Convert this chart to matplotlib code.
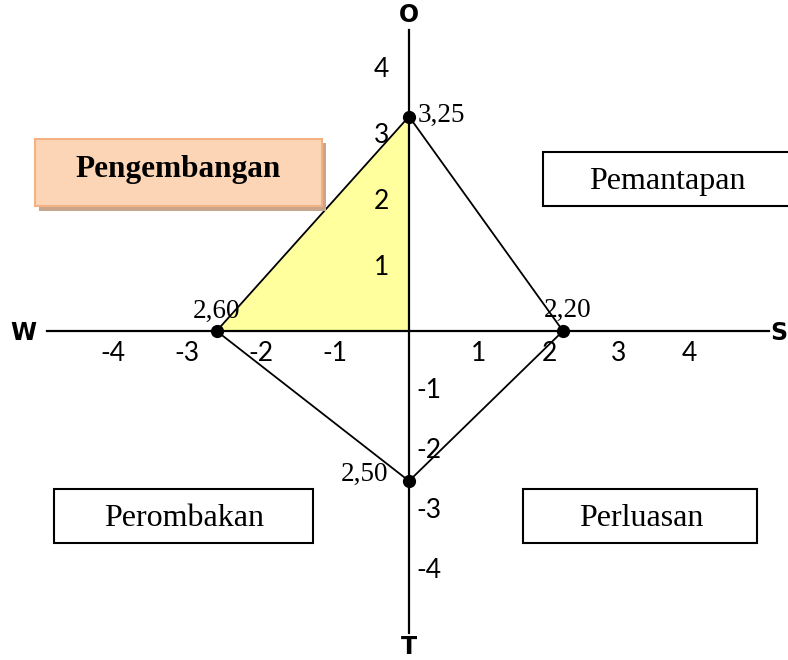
import numpy as np
import matplotlib
matplotlib.use("Agg")
import matplotlib.pyplot as plt
from matplotlib.patches import Rectangle, Polygon
import matplotlib.transforms as mtransforms

# ---- data ----
axis_names = ["S", "W", "O", "T"]
strength = 2.20      # S (x>0)
weakness = 2.60      # W (x<0)
opportunity = 3.25   # O (y>0)
threat = 2.50        # T (y<0)
point_labels = ["2,20", "2,60", "3,25", "2,50"]
x_ticks = [-4, -3, -2, -1, 1, 2, 3, 4]
y_ticks = [4, 3, 2, 1, -1, -2, -3, -4]
quadrant_names = ["Pengembangan", "Pemantapan", "Perombakan", "Perluasan"]

# ---- piecewise-linear scales (hand-drawn diagram has unequal halves) ----
XL, XR = 74.0, 70.0
YU, YD = 66.0, 60.0

def fx(v):
    v = np.asarray(v, dtype=float)
    return np.where(v < 0, v * XL, v * XR)

def ifx(v):
    v = np.asarray(v, dtype=float)
    return np.where(v < 0, v / XL, v / XR)

def fy(v):
    v = np.asarray(v, dtype=float)
    return np.where(v < 0, v * YD, v * YU)

def ify(v):
    v = np.asarray(v, dtype=float)
    return np.where(v < 0, v / YD, v / YU)

fig = plt.figure(figsize=(7.88, 6.60), dpi=100)
ax = fig.add_axes([0, 0, 1, 1])
ax.set_xscale("function", functions=(fx, ifx))
ax.set_yscale("function", functions=(fy, ify))
ax.set_xlim(-409 / XL, 379 / XR)
ax.set_ylim(-329 / YD, 331 / YU)
ax.axis("off")

sans = ["Lato", "DejaVu Sans"]
bold_sans = ["DejaVu Sans"]
serif = ["Liberation Serif", "DejaVu Serif"]

# points of the SWOT diamond
px = [strength, -weakness, 0, 0]
py = [0, 0, opportunity, -threat]

# yellow triangle (W, origin, O)
tri = Polygon([[-weakness, 0], [0, 0], [0, opportunity]], closed=True,
              facecolor="#FFFF9E", edgecolor="none", zorder=1)
ax.add_patch(tri)

# axes lines
ax.axhline(0, xmin=47 / 788, xmax=769 / 788, color="black", lw=1.6, zorder=2)
ax.axvline(0, ymin=1 - 633 / 660, ymax=1 - 30 / 660, color="black", lw=1.6, zorder=2)

# diamond
dx = [-weakness, 0, strength, 0, -weakness]
dy = [0, opportunity, 0, -threat, 0]
ax.plot(dx, dy, color="black", lw=1.3, zorder=3)
ax.plot(px, py, "o", color="black", markersize=8.5, zorder=4)

# point labels
offsets = [((3, 15), "center"), ((0, 14), "center"), ((6, 1), "left"), ((-15, 5), "right")]
for x, y, lab, (off, ha) in zip(px, py, point_labels, offsets):
    ax.annotate(lab, (x, y), xytext=off, textcoords="offset points",
                ha=ha, va="center", fontsize=19.5, family=serif, zorder=5)

# tick labels
for t in x_ticks:
    ax.annotate(str(t), (t, 0), xytext=(0, -16), textcoords="offset points",
                ha="center", va="center", fontsize=19, family=sans, zorder=5)
for t in y_ticks:
    off = (-20, -2) if t > 0 else (14, 0)
    ax.annotate(str(t), (0, t), xytext=off, textcoords="offset points",
                ha="center", va="center", fontsize=19, family=sans, zorder=5)

# axis names
ax.text(23 / 788, 1 - 333 / 660, "W", transform=ax.transAxes, ha="center", va="center",
        fontsize=17, fontweight="bold", family=bold_sans)
ax.text(787 / 788, 1 - 333 / 660, "S", transform=ax.transAxes, ha="right", va="center",
        fontsize=17, fontweight="bold", family=bold_sans)
trans = mtransforms.blended_transform_factory(ax.transData, ax.transAxes)
ax.text(0, 1 - 15 / 660, "O", transform=trans, ha="center", va="center",
        fontsize=17, fontweight="bold", family=bold_sans)
ax.text(0, 0.002, "T", transform=trans, ha="center", va="bottom",
        fontsize=17, fontweight="bold", family=bold_sans)

# quadrant boxes (pixel layout -> axes fraction)
def box(x0, y0, x1, y1, **kw):
    r = Rectangle((x0 / 788, 1 - y1 / 660), (x1 - x0) / 788, (y1 - y0) / 660,
                  transform=ax.transAxes, **kw)
    ax.add_patch(r)

def label(cx, cy, s, **kw):
    ax.text(cx / 788, 1 - cy / 660, s, transform=ax.transAxes, ha="center",
            va="center", family=serif, zorder=7, **kw)

# Pengembangan (highlighted, with shadow)
box(39, 143, 326, 211, facecolor="#C9A68B", edgecolor="none", zorder=5)
box(35, 139, 322, 206, facecolor="#FBD5B5", edgecolor="#F4B183", lw=1.5, zorder=6)
label(178, 170, quadrant_names[0], fontsize=22.5, fontweight="bold")

box(543, 152, 795, 206, facecolor="white", edgecolor="black", lw=1.5, zorder=6)
label(667, 182, quadrant_names[1], fontsize=23)

box(54, 489, 313, 543, facecolor="white", edgecolor="black", lw=1.5, zorder=6)
label(184, 519, quadrant_names[2], fontsize=23)

box(523, 489, 757, 543, facecolor="white", edgecolor="black", lw=1.5, zorder=6)
label(641, 519, quadrant_names[3], fontsize=23)

fig.savefig("out.png", dpi=100)
